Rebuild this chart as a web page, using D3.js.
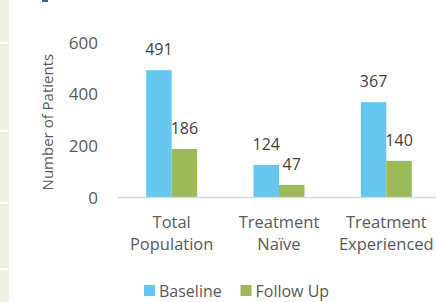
<!DOCTYPE html>
<html>
<head>
<meta charset="utf-8">
<script src="https://cdn.jsdelivr.net/npm/d3@7"></script>
<style>
  body { margin: 0; background: #fff; }
  svg text { font-family: "Open Sans", "Noto Sans", sans-serif; }
</style>
</head>
<body>
<div class="chart"></div>
<script>
// chart data
var categories = [["Total", "Population"], ["Treatment", "Naïve"], ["Treatment", "Experienced"]];
var seriesNames = ["Baseline", "Follow Up"];
var baseline = [491, 124, 367];
var followUp = [186, 47, 140];
var yTicks = [0, 200, 400, 600];
var colors = ["#65c7f0", "#9bbb59"];

var svgWidth = 436;
var svgHeight = 302;

var svg = d3.select(".chart")
  .append("svg")
  .attr("width", svgWidth)
  .attr("height", svgHeight);

// decorative strip on the left edge (part of the slide)
var stripBreaks = [0, 42, 130, 202, 268, 302];
for (var i = 0; i < stripBreaks.length - 1; i++) {
  svg.append("rect")
    .attr("x", 0)
    .attr("y", stripBreaks[i] + (i > 0 ? 2 : 0))
    .attr("width", 9)
    .attr("height", stripBreaks[i + 1] - stripBreaks[i] - (i > 0 ? 2 : 0))
    .attr("fill", "#ebf1de");
}
svg.append("rect")
  .attr("x", 42).attr("y", 0)
  .attr("width", 6).attr("height", 2)
  .attr("fill", "#1f6e8c");

// scales
var keys = categories.map(function(d) { return d.join(" "); });
var xScale = d3.scaleBand()
  .domain(keys)
  .range([118, 440])
  .paddingInner(0.525)
  .paddingOuter(0.2625);

var xSub = d3.scaleBand()
  .domain(seriesNames)
  .range([0, xScale.bandwidth()]);

var yScale = d3.scaleLinear()
  .domain([0, 600])
  .range([197, 42]);

// y tick labels
var leftAxis = d3.axisLeft(yScale).tickValues(yTicks).tickSize(0).tickPadding(0);
var yAxisG = svg.append("g")
  .attr("transform", "translate(98,0)")
  .call(leftAxis);
yAxisG.select(".domain").remove();
yAxisG.selectAll("text")
  .attr("fill", "#595959")
  .attr("font-size", "17px")
  .attr("dy", "0.36em")
  .style("font-family", "'Open Sans', sans-serif");

// y axis title
svg.append("text")
  .attr("transform", "translate(48," + yScale(290) + ") rotate(-90)")
  .attr("text-anchor", "middle")
  .attr("dy", "0.35em")
  .attr("font-size", "15px")
  .attr("fill", "#595959")
  .text("Number of Patients");

// bars
var rows = keys.map(function(k, i) {
  return { key: k, values: [baseline[i], followUp[i]] };
});

var groups = svg.selectAll("g.group")
  .data(rows)
  .enter()
  .append("g")
  .attr("class", "group")
  .attr("transform", function(d) { return "translate(" + xScale(d.key) + ",0)"; });

groups.selectAll("rect")
  .data(function(d) { return d.values.map(function(v, j) { return { name: seriesNames[j], value: v, idx: j }; }); })
  .enter()
  .append("rect")
  .attr("x", function(d) { return xSub(d.name); })
  .attr("y", function(d) { return yScale(d.value); })
  .attr("width", xSub.bandwidth())
  .attr("height", function(d) { return yScale(0) - yScale(d.value); })
  .attr("fill", function(d) { return colors[d.idx]; });

groups.selectAll("text.value")
  .data(function(d) { return d.values.map(function(v, j) { return { name: seriesNames[j], value: v }; }); })
  .enter()
  .append("text")
  .attr("class", "value")
  .attr("x", function(d) { return xSub(d.name) + xSub.bandwidth() / 2; })
  .attr("y", function(d) { return yScale(d.value) - 21; })
  .attr("dy", "0.36em")
  .attr("text-anchor", "middle")
  .attr("font-size", "16px")
  .attr("fill", "#404040")
  .text(function(d) { return d.value; });

// x axis line
svg.append("line")
  .attr("x1", 118).attr("x2", 440)
  .attr("y1", yScale(0) + 0.5).attr("y2", yScale(0) + 0.5)
  .attr("stroke", "#d9d9d9")
  .attr("stroke-width", 1.5);

// category labels
categories.forEach(function(lines, i) {
  var cx = xScale(keys[i]) + xScale.bandwidth() / 2;
  var t = svg.append("text")
    .attr("text-anchor", "middle")
    .attr("font-size", "16.5px")
    .attr("fill", "#595959");
  lines.forEach(function(line, j) {
    t.append("tspan")
      .attr("x", cx)
      .attr("y", 222 + j * 22)
      .attr("dy", "0.36em")
      .text(line);
  });
});

// legend
var legendX = [144, 240.5];
seriesNames.forEach(function(name, i) {
  svg.append("rect")
    .attr("x", legendX[i]).attr("y", 285)
    .attr("width", 11).attr("height", 11)
    .attr("fill", colors[i]);
  svg.append("text")
    .attr("x", legendX[i] + 15)
    .attr("y", 291)
    .attr("dy", "0.36em")
    .attr("font-size", "16px")
    .attr("fill", "#595959")
    .text(name);
});
</script>
</body>
</html>
